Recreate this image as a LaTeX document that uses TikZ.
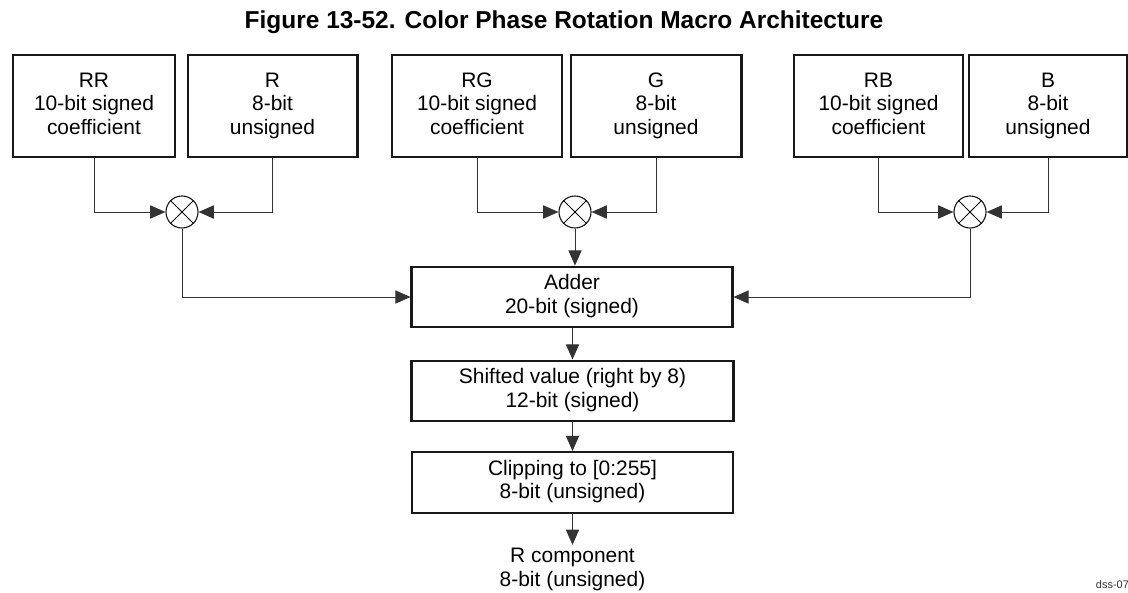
\documentclass[tikz,border=0pt]{standalone}
\usepackage{fontspec}
\setmainfont{Liberation Sans}
\usetikzlibrary{arrows.meta}
\begin{document}
\begin{tikzpicture}[x=0.025cm,y=-0.025cm,
    font=\fontsize{14.9}{16.7}\selectfont,
    box/.style={draw=black!90,line width=1.4pt,align=center,inner sep=0pt},
    boxthick/.style={box,line width=2.1pt},
    mult/.style={circle,draw=black!90,line width=0.8pt,minimum size=0.8cm,inner sep=0pt},
    arr/.style={draw=black!80,line width=0.7pt,-{Triangle[length=0.38cm,width=0.33cm]}}]
    \useasboundingbox (0,0) rectangle (1128,592);
    \node[font=\bfseries\fontsize{17.4}{20}\selectfont] (title) at (564,22) {Figure 13-52. Color Phase Rotation Macro Architecture};
    \node[box,minimum width=4.05cm,minimum height=2.55cm] (rr) at (94,106) {\strut RR\\\strut 10-bit signed\\\strut coefficient};
    \node[boxthick,minimum width=4.225cm,minimum height=2.55cm] (r) at (272.5,106) {\strut R\\\strut 8-bit\\\strut unsigned};
    \node[box,minimum width=4.25cm,minimum height=2.55cm] (rg) at (477,106) {\strut RG\\\strut 10-bit signed\\\strut coefficient};
    \node[boxthick,minimum width=4.25cm,minimum height=2.55cm] (g) at (656,106) {\strut G\\\strut 8-bit\\\strut unsigned};
    \node[box,minimum width=4.225cm,minimum height=2.55cm] (rb) at (878.5,106) {\strut RB\\\strut 10-bit signed\\\strut coefficient};
    \node[boxthick,minimum width=3.95cm,minimum height=2.55cm] (b) at (1048,106) {\strut B\\\strut 8-bit\\\strut unsigned};
    \node[mult] (m1) at (182,212) {};
    \node[mult] (m2) at (575,212) {};
    \node[mult] (m3) at (970,212) {};
    \foreach \m in {m1,m2,m3}
        \draw[line width=0.6pt] (\m.north east) -- (\m.south west) (\m.north west) -- (\m.south east);
    \node[boxthick,minimum width=8cm,minimum height=1.5cm] (adder) at (572,297) {\strut Adder\\\strut 20-bit (signed)};
    \node[boxthick,minimum width=8.025cm,minimum height=1.5cm] (shift) at (572.5,391) {\strut Shifted value (right by 8)\\\strut 12-bit (signed)};
    \node[box,minimum width=8.025cm,minimum height=1.525cm] (clip) at (572.5,482.5) {\strut Clipping to [0:255]\\\strut 8-bit (unsigned)};
    \node[align=center,inner sep=1pt] (out) at (572.5,570) {\strut R component\\\strut 8-bit (unsigned)};
    \node[anchor=west,font=\fontsize{7.8}{9}\selectfont,text=black!80] (tag) at (1091,585) {dss-07};
    \draw[arr] (rr.south) |- (m1.west);
    \draw[arr] (r.south) |- (m1.east);
    \draw[arr] (rg.south) |- (m2.west);
    \draw[arr] (g.south) |- (m2.east);
    \draw[arr] (rb.south) |- (m3.west);
    \draw[arr] (b.south) |- (m3.east);
    \draw[arr] (m1.south) |- (adder.west);
    \draw[arr] (m2.south) -- (m2.south |- adder.north);
    \draw[arr] (m3.south) |- (adder.east);
    \draw[arr] (adder.south -| shift.north) -- (shift.north);
    \draw[arr] (shift.south) -- (clip.north);
    \draw[arr] (clip.south) -- (out.north);
\end{tikzpicture}
\end{document}
